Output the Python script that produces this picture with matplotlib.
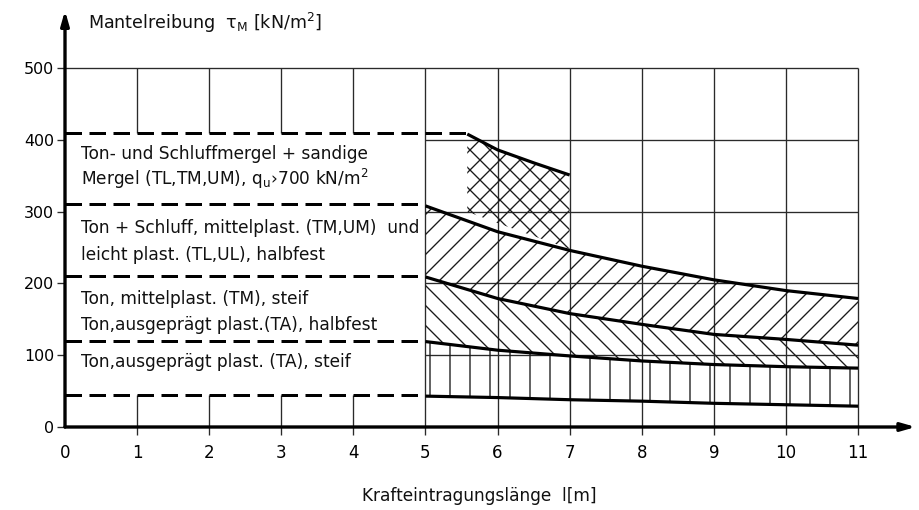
import matplotlib.pyplot as plt
import numpy as np

plt.rcParams['font.family'] = ['DejaVu Sans']
plt.rcParams['hatch.linewidth'] = 0.8
plt.rcParams['hatch.color'] = '#1a1a1a'

# class limits on the left (kN/m2), top to bottom
class_levels = [410, 310, 210, 120, 45]

# friction curves for l >= 5 m
l_curve = [5, 6, 7, 8, 9, 10, 11]
upper_semi = [308, 272, 246, 224, 205, 190, 179]
upper_stiff = [209, 179, 158, 143, 129, 122, 114]
upper_ta = [119, 107, 99, 92, 87, 84, 82]
lower_ta = [43, 41, 38, 36, 33, 31, 29]

# marl band, only known up to l = 7 m
l_marl = [5.58, 6, 6.5, 7]
marl_top = [408, 386, 368, 351]
marl_bottom = [300, 284, 266, 248]

x_ticks = list(range(0, 12))
y_ticks = [0, 100, 200, 300, 400, 500]

class_text = [
    ('Ton- und Schluffmergel + sandige', 373),
    ('Mergel (TL,TM,UM), q$_\\mathregular{u}$\u203a700 kN/m$^\\mathregular{2}$', 337),
    ('Ton + Schluff, mittelplast. (TM,UM)  und', 270),
    ('leicht plast. (TL,UL), halbfest', 233),
    ('Ton, mittelplast. (TM), steif', 172),
    ('Ton,ausgeprägt plast.(TA), halbfest', 135),
    ('Ton,ausgeprägt plast. (TA), steif', 83),
]

dpi = 120
W, H = 919, 510
fig = plt.figure(figsize=(W / dpi, H / dpi), dpi=dpi)
ax = fig.add_axes([65 / W, 83 / H, 850.7 / W, 416.4 / H])
ax.set_xlim(0, 11.8)
ax.set_ylim(0, 580)
for s in ax.spines.values():
    s.set_visible(False)

grid_kw = dict(color='#2a2a2a', lw=0.8, zorder=1)
# grid: full field right of 5 m, only outside the class box on the left
ax.hlines(500, 0, 11, **grid_kw)
ax.hlines([100, 200, 300, 400], 5, 11, **grid_kw)
ax.vlines(range(5, 12), 0, 500, **grid_kw)
ax.vlines(range(1, 5), class_levels[0], 500, **grid_kw)
ax.vlines(range(1, 5), 0, class_levels[-1], **grid_kw)

# hatched bands
hatch_kw = dict(facecolor='none', edgecolor='#1a1a1a', lw=0, zorder=2)
ax.fill_between(l_curve, upper_stiff, upper_semi, hatch='//', **hatch_kw)
ax.fill_between(l_curve, upper_ta, upper_stiff, hatch='\\\\', **hatch_kw)
ax.fill_between(l_curve, lower_ta, upper_ta, hatch='|', **hatch_kw)
ax.fill_between(l_marl, marl_bottom, marl_top, hatch='xx', **hatch_kw)

# dashed class limits
for i, lvl in enumerate(class_levels):
    x_end = l_marl[0] if i == 0 else 5
    ax.plot([0, x_end], [lvl, lvl], color='k', lw=1.8, dashes=[5.5, 2.5], zorder=3)

# solid curves
curve_kw = dict(color='k', lw=1.9, zorder=4, solid_capstyle='butt')
ax.plot(l_marl, marl_top, **curve_kw)
for ys in (upper_semi, upper_stiff, upper_ta, lower_ta):
    ax.plot(l_curve, ys, **curve_kw)

# axes with arrows
arrow = dict(arrowstyle='-|>,head_length=0.7,head_width=0.2', lw=2.0,
             color='k', shrinkA=0, shrinkB=0)
ax.annotate('', xy=(11.8, 0), xytext=(0, 0), arrowprops=arrow,
            annotation_clip=False, zorder=5)
ax.annotate('', xy=(0, 580), xytext=(0, 0), arrowprops=arrow,
            annotation_clip=False, zorder=5)

ax.set_xticks(x_ticks)
ax.set_yticks(y_ticks)
ax.tick_params(axis='x', direction='out', length=4.5, width=0.8,
               color='#2a2a2a', labelsize=10, pad=6)
ax.tick_params(axis='y', direction='out', length=5, width=0.8,
               color='#2a2a2a', labelsize=9.5, pad=1.5)
ax.xaxis.get_major_ticks()[0].tick1line.set_visible(False)

for txt, y in class_text:
    ax.text(0.22, y, txt, fontsize=10.2, va='baseline', ha='left', color='#111')

ax.text(0.32, 555, 'Mantelreibung  \u03c4$_\\mathregular{M}$ [kN/m$^\\mathregular{2}$]',
        fontsize=10.5, va='baseline', ha='left', color='#111')
fig.text(479 / W, 1 - 496 / H, 'Krafteintragungslänge  l[m]', fontsize=10.2,
         ha='center', va='center', color='#111')

fig.savefig('out.png', dpi=dpi)
